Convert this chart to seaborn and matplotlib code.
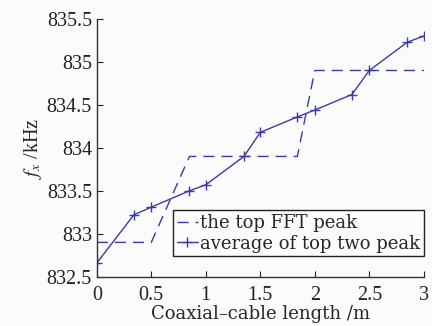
import matplotlib
matplotlib.use("Agg")
import matplotlib.pyplot as plt
import seaborn as sns
import pandas as pd

length_m = [0, 0.34, 0.5, 0.85, 1.0, 1.35, 1.5, 1.84, 2.0, 2.34, 2.5, 2.85, 3.0]
top_fft_peak = [832.9, 832.9, 832.9, 833.9, 833.9, 833.9, 833.9, 833.9, 834.9, 834.9, 834.9, 834.9, 834.9]
avg_top_two = [832.66, 833.22, 833.31, 833.50, 833.57, 833.90, 834.18, 834.36, 834.44, 834.62, 834.90, 835.23, 835.30]
x_ticks = [0, 0.5, 1, 1.5, 2, 2.5, 3]
y_ticks = [832.5, 833, 833.5, 834, 834.5, 835, 835.5]

df = pd.DataFrame({"x": length_m, "fft": top_fft_peak, "avg": avg_top_two})

sns.set_style("ticks")
plt.rcParams["font.family"] = ["Liberation Serif", "DejaVu Serif"]
plt.rcParams["mathtext.fontset"] = "stix"

color = "#3a3aa8"
fig = plt.figure(figsize=(4.32, 3.26), dpi=100)
fig.patch.set_facecolor("#fbfbfb")
ax = fig.add_axes([0.224, 0.151, 0.757, 0.791])
ax.set_facecolor("#fbfbfb")

sns.lineplot(data=df, x="x", y="fft", ax=ax, color=color, lw=1.0,
             linestyle=(0, (8, 5)), label="the top FFT peak")
sns.lineplot(data=df, x="x", y="avg", ax=ax, color=color, lw=1.0,
             marker="+", markersize=7, markeredgewidth=1.0, markeredgecolor=color,
             label="average of top two peak")

ax.set_xlim(0, 3)
ax.set_ylim(832.5, 835.5)
ax.set_xticks(x_ticks)
ax.set_xticklabels(["0", "0.5", "1", "1.5", "2", "2.5", "3"])
ax.set_yticks(y_ticks)
ax.set_yticklabels(["832.5", "833", "833.5", "834", "834.5", "835", "835.5"])
ax.tick_params(direction="in", length=4, width=0.8, labelsize=14.5, colors="#222222")
ax.tick_params(axis="x", pad=7)
for s in ["top", "right"]:
    ax.spines[s].set_visible(False)
for s in ["left", "bottom"]:
    ax.spines[s].set_color("#333333")
    ax.spines[s].set_linewidth(1.0)

ax.set_xlabel("Coaxial\u2013cable length /m", fontsize=13, labelpad=0,
              family=["DejaVu Serif"])
ax.set_ylabel(r"$f_x$ /kHz", fontsize=14.5, labelpad=2)

leg = ax.legend(loc="lower right", bbox_to_anchor=(1.0, 0.08),
                prop={"family": "DejaVu Serif", "size": 13},
                frameon=True, fancybox=False, handlelength=1.2, handletextpad=0.1,
                borderpad=0.2, labelspacing=0.15, borderaxespad=0.0)
leg.get_frame().set_edgecolor("#222222")
leg.get_frame().set_linewidth(1.0)
leg.get_frame().set_facecolor("#fbfbfb")
leg.get_frame().set_alpha(1)

fig.savefig("out.png", dpi=100, facecolor=fig.get_facecolor())
